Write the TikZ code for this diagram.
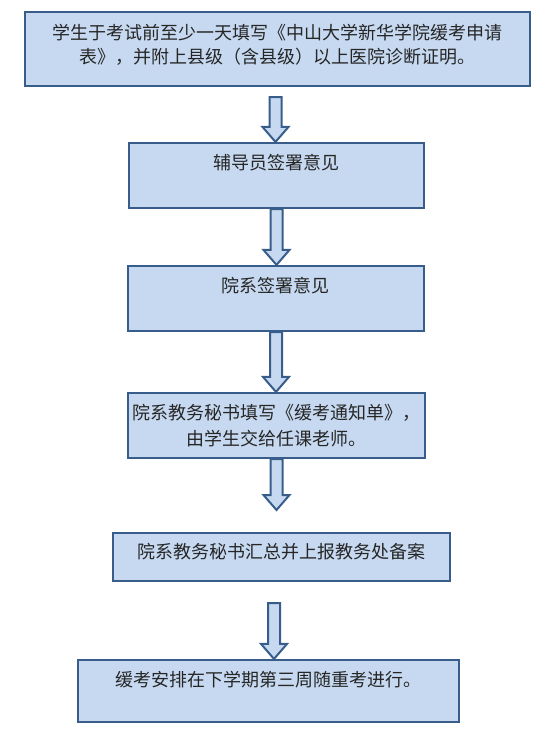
\documentclass[tikz,border=0pt]{standalone}
\usepackage{fontspec}
\setmainfont{Noto Sans CJK SC}
\usetikzlibrary{calc}
\definecolor{boxfill}{HTML}{C6D9F1}
\definecolor{boxline}{HTML}{385D8A}
\definecolor{txt}{HTML}{262626}
\newcommand\boxcontent[5]{\begin{minipage}[c][#2pt][t]{#1pt}\centering\fontsize{18}{#4}\selectfont\vspace*{#3pt}\strut #5\end{minipage}}
\newcommand\bigarrow[2]{\draw[arrowbody] let \p1=(#1), \p2=(#2) in
  (\x1-6pt,\y1) -- (\x1+6pt,\y1) -- (\x1+6pt,\y2+15pt) -- (\x1+13pt,\y2+15pt)
  -- (\x1,\y2) -- (\x1-13pt,\y2+15pt) -- (\x1-6pt,\y2+15pt) -- cycle;}
\begin{document}
\begin{tikzpicture}[x=1pt,y=1pt,
  flowbox/.style={draw=boxline, fill=boxfill, line width=2.2pt, inner sep=0pt, text=txt},
  arrowbody/.style={draw=boxline, fill=boxfill, line width=2pt, line join=miter}]
\useasboundingbox (0,0) rectangle (554,-732);
\node[flowbox] (b1) at (277.5,-49) {\boxcontent{505}{74}{10.4}{24}{学生于考试前至少一天填写《中山大学新华学院缓考申请\\表》，并附上县级（含县级）以上医院诊断证明。}};
\node[flowbox] (b2) at (276.5,-175.5) {\boxcontent{295}{65}{9.3}{24}{辅导员签署意见}};
\node[flowbox] (b3) at (276,-298.5) {\boxcontent{296}{65}{9.3}{24}{院系签署意见}};
\node[flowbox] (b4) at (276.5,-425.5) {\boxcontent{297}{65}{8.3}{26}{院系教务秘书填写《缓考通知单》，\\由学生交给任课老师。}};
\node[flowbox] (b5) at (281.5,-557) {\boxcontent{337}{48}{8.3}{24}{院系教务秘书汇总并上报教务处备案}};
\node[flowbox] (b6) at (268.5,-691) {\boxcontent{381}{62}{9.3}{24}{缓考安排在下学期第三周随重考进行。}};
\coordinate (a1s) at (275.5,-97);
\coordinate (a4e) at (275,-510);
\coordinate (a5s) at (274,-603);
\bigarrow{a1s}{b2.north}
\bigarrow{b2.south}{b3.north}
\bigarrow{b3.south}{b4.north}
\bigarrow{b4.south}{a4e}
\bigarrow{a5s}{b6.north}
\end{tikzpicture}
\end{document}
